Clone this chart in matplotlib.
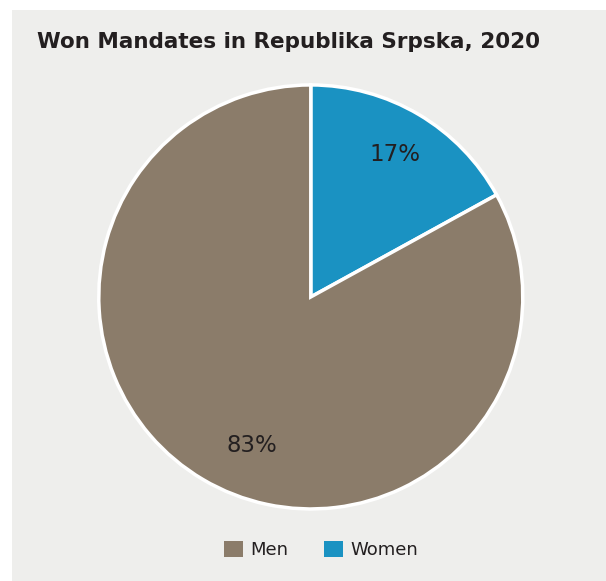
import matplotlib
matplotlib.use("Agg")
import matplotlib.pyplot as plt
from matplotlib.patches import Rectangle, Patch

labels = ["Women", "Men"]
shares = [17, 83]
colors = ["#1a92c2", "#8b7c6a"]
legend_order = ["Men", "Women"]

plt.rcParams["font.family"] = ["DejaVu Sans"]

fig = plt.figure(figsize=(6.06, 5.81), dpi=100)
fig.patch.set_facecolor("white")

# grey card behind the chart
fig.patches.append(Rectangle((12 / 606, 0), 1, 1 - 10 / 581,
                             transform=fig.transFigure, facecolor="#eeeeec",
                             edgecolor="none", zorder=-5))

fig.text(37 / 606, 1 - 42 / 581, "Won Mandates in Republika Srpska, 2020",
         fontsize=15.5, fontweight="bold", color="#231f20", va="center", ha="left")

ax = fig.add_axes([0.513 - 0.35, 0.489 - 0.365, 0.6997, 0.7298])
ax.patch.set_visible(False)
wedges, texts, autotexts = ax.pie(
    shares, colors=colors, startangle=90, counterclock=False,
    autopct="%d%%", pctdistance=0.78,
    wedgeprops=dict(edgecolor="white", linewidth=2.5),
    textprops=dict(fontsize=16.5, color="#231f20"))
# nudge the larger label toward the centre line
x, y = autotexts[1].get_position()
autotexts[1].set_position((x + 0.12, y - 0.03))
ax.set_xlim(-1.0, 1.0)
ax.set_ylim(-1.0, 1.0)
ax.set_aspect("auto")
ax.axis("off")

by_name = dict(zip(labels, colors))
handles = [Patch(facecolor=by_name[n], edgecolor="none") for n in legend_order]
fig.legend(handles, legend_order, loc="center", bbox_to_anchor=(0.53, 1 - 550 / 581),
           ncol=2, frameon=False, fontsize=13, handlelength=1.05, handleheight=1.05,
           handletextpad=0.4, columnspacing=2.0, labelcolor="#231f20")

fig.savefig("out.png", dpi=100, facecolor=fig.get_facecolor())
